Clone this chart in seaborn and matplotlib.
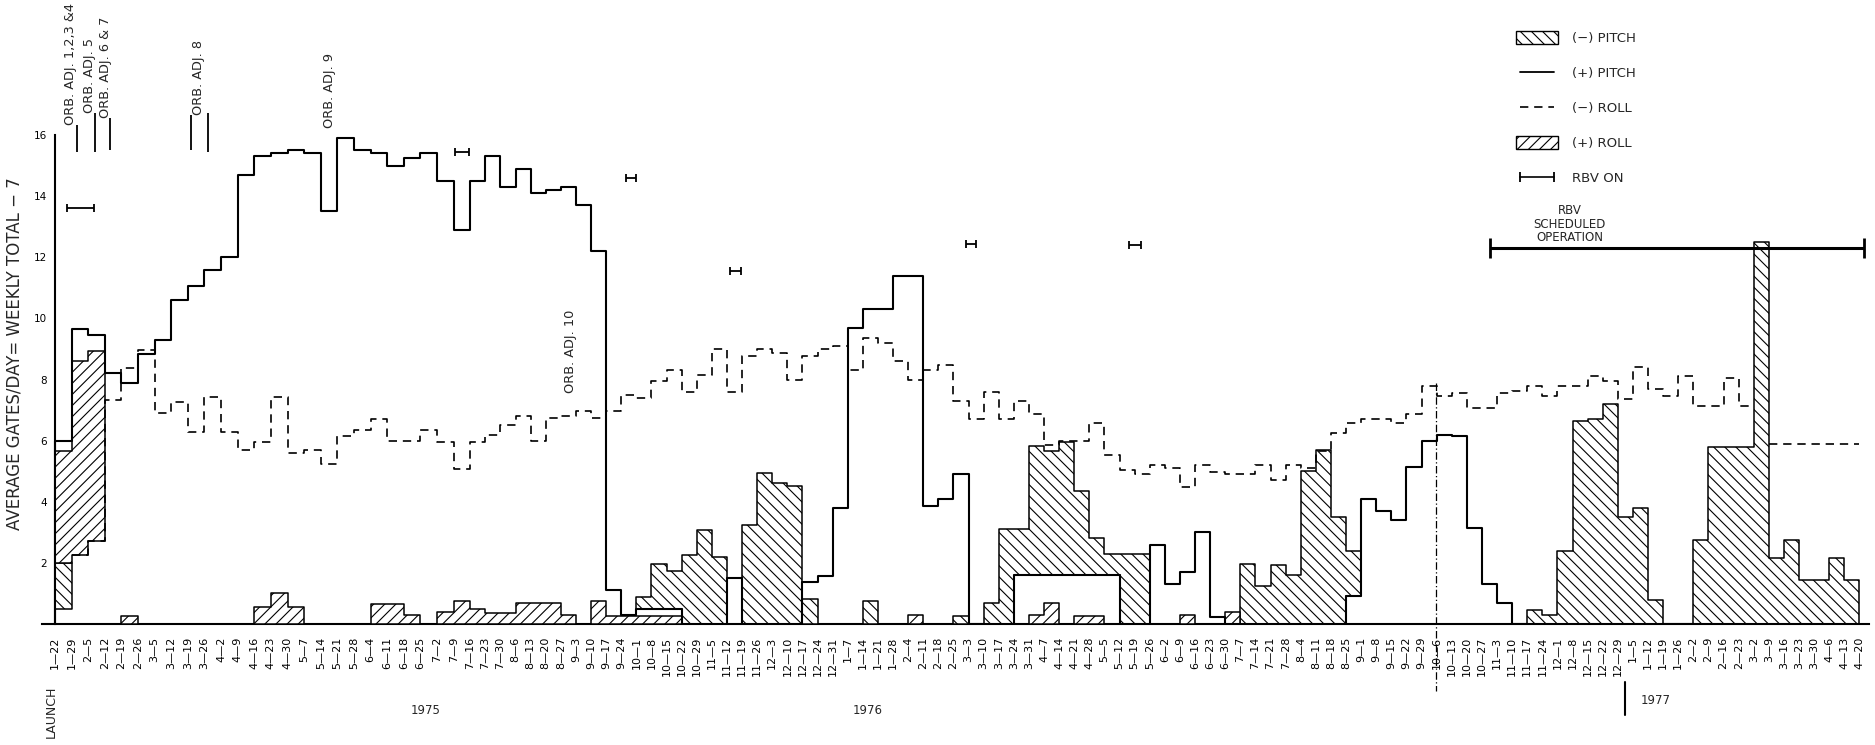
import numpy as np
import matplotlib
matplotlib.use("Agg")
import matplotlib.pyplot as plt
import matplotlib.transforms as mtransforms
from matplotlib.patches import Patch
from matplotlib.lines import Line2D
import seaborn as sns

sns.set_theme(style="white")
plt.rcParams["font.family"] = ["DejaVu Sans"]
plt.rcParams["hatch.linewidth"] = 0.8
plt.rcParams["hatch.color"] = "black"

nan = np.nan

# ---------------- data ----------------
WEEK_LABELS = [
    "1—22", "1—29", "2—5", "2—12", "2—19", "2—26", "3—5", "3—12", "3—19", "3—26",
    "4—2", "4—9", "4—16", "4—23", "4—30", "5—7", "5—14", "5—21", "5—28", "6—4",
    "6—11", "6—18", "6—25", "7—2", "7—9", "7—16", "7—23", "7—30", "8—6", "8—13",
    "8—20", "8—27", "9—3", "9—10", "9—17", "9—24", "10—1", "10—8", "10—15", "10—22",
    "10—29", "11—5", "11—12", "11—19", "11—26", "12—3", "12—10", "12—17", "12—24", "12—31",
    "1—7", "1—14", "1—21", "1—28", "2—4", "2—11", "2—18", "2—25", "3—3", "3—10",
    "3—17", "3—24", "3—31", "4—7", "4—14", "4—21", "4—28", "5—5", "5—12", "5—19",
    "5—26", "6—2", "6—9", "6—16", "6—23", "6—30", "7—7", "7—14", "7—21", "7—28",
    "8—4", "8—11", "8—18", "8—25", "9—1", "9—8", "9—15", "9—22", "9—29", "10—6",
    "10—13", "10—20", "10—27", "11—3", "11—10", "11—17", "11—24", "12—1", "12—8", "12—15",
    "12—22", "12—29", "1—5", "1—12", "1—19", "1—26", "2—2", "2—9", "2—16", "2—23",
    "3—2", "3—9", "3—16", "3—23", "3—30", "4—6", "4—13", "4—20",
]

# (+) PITCH, solid outline, one value per week
PITCH_PLUS = [
    6.0, 9.65, 9.45, 8.2, 7.9, 8.85, 9.3, 10.6, 11.05, 11.6,
    12.0, 14.7, 15.3, 15.4, 15.5, 15.4, 13.5, 15.9, 15.5, 15.4,
    15.0, 15.25, 15.4, 14.5, 12.9, 14.5, 15.3, 14.3, 14.9, 14.1,
    14.2, 14.3, 13.7, 12.2, 1.1, 0.3, 0.5, 0.5, 0.5, 0,
    0, 0, 1.5, 0, 0, 0, 0, 1.37, 1.57, 3.8,
    9.7, 10.3, 10.3, 11.4, 11.4, 3.85, 4.1, 4.9, 0, 0,
    0, 1.6, 1.6, 1.6, 1.6, 1.6, 1.6, 1.6, 0, 0,
    2.6, 1.3, 1.7, 3.0, 0.24, 0, 0, 0, 0, 0,
    0, 0, 0, 0.9, 4.1, 3.7, 3.4, 5.15, 6.0, 6.2,
    6.15, 3.15, 1.3, 0.7, 0, 0, 0, 0, 0, 0,
    0, 0, 0, 0, 0, 0, 0, 0, 0, 0,
    0, 0, 0, 0, 0, 0, 0,
]

# (-) ROLL, dashed outline
ROLL_MINUS = [
    nan, 2.25, 2.7, 7.33, 8.38, 8.97, 6.9, 7.26, 6.27, 7.44,
    6.27, 5.71, 5.95, 7.44, 5.6, 5.71, 5.25, 6.16, 6.35, 6.72,
    6.0, 6.0, 6.35, 5.95, 5.07, 5.95, 6.2, 6.5, 6.8, 6.0,
    6.75, 6.8, 6.96, 6.75, 6.96, 7.5, 7.4, 7.95, 8.3, 7.6,
    8.15, 9.0, 7.6, 8.77, 9.0, 8.86, 8.0, 8.77, 9.0, 9.1,
    8.3, 9.35, 9.2, 8.6, 8.0, 8.31, 8.47, 7.31, 6.7, 7.6,
    6.7, 7.3, 6.86, 5.87, 6.0, 6.0, 6.58, 5.53, 5.05, 4.9,
    5.2, 5.1, 4.48, 5.2, 4.97, 4.9, 4.92, 5.2, 4.7, 5.2,
    5.1, 5.67, 6.25, 6.58, 6.7, 6.7, 6.57, 6.88, 7.78, 7.45,
    7.56, 7.08, 7.08, 7.56, 7.63, 7.8, 7.45, 7.78, 7.8, 8.1,
    7.96, 7.37, 8.4, 7.7, 7.45, 8.1, 7.12, 7.12, 8.05, 7.12,
    nan, 5.9, 5.9, 5.9, 5.9, 5.9, 5.9,
]

# (-) PITCH, back-hatched blocks: week index, lower and upper level
PITCH_MINUS_WEEKS = [0, 36, 37, 38, 39, 40, 41, 43, 44, 45, 46, 47, 51, 57, 59, 60, 61, 62,
                     63, 64, 65, 66, 67, 68, 69, 76, 77, 78, 79, 80, 81, 82, 83, 95, 96,
                     97, 98, 99, 100, 101, 102, 103, 106, 107, 108, 109, 110, 111, 112,
                     113, 114, 115, 116]
PITCH_MINUS_LOW = [0.5, 0.5, 0.5, 0.5, 0, 0, 0, 0, 0, 0, 0, 0, 0, 0, 0, 0, 1.6, 1.6,
                   1.6, 1.6, 1.6, 1.6, 1.6, 0, 0, 0, 0, 0, 0, 0, 0, 0, 0.9, 0, 0,
                   0, 0, 0, 0, 0, 0, 0, 0, 0, 0, 0, 0, 0, 0,
                   0, 0, 0, 0]
PITCH_MINUS_HIGH = [2.0, 0.87, 1.95, 1.75, 2.25, 3.08, 2.2, 3.25, 4.95, 4.6, 4.5, 0.83, 0.75,
                    0.25, 0.7, 3.1, 3.1, 5.83, 5.65, 5.97, 4.36, 2.83, 2.3, 2.3, 2.3, 1.96,
                    1.25, 1.93, 1.6, 5.0, 5.7, 3.5, 2.4, 0.45, 0.3, 2.4, 6.65, 6.7, 7.2,
                    3.5, 3.8, 0.8, 2.75, 5.8, 5.8, 5.8, 12.5, 2.15, 2.75, 1.45, 1.45, 2.15,
                    1.45]

# (+) ROLL, forward-hatched blocks
ROLL_PLUS_WEEKS = [0, 1, 2, 4, 12, 13, 14, 19, 20, 21, 23, 24, 25, 26, 27, 28, 29, 30, 31,
                   33, 34, 35, 36, 37, 38, 54, 62, 63, 65, 66, 72, 75]
ROLL_PLUS_LOW = [2.0, 2.25, 2.7] + [0] * 29
ROLL_PLUS_HIGH = [5.65, 8.6, 8.95, 0.25, 0.55, 1.0, 0.55, 0.65, 0.65, 0.3, 0.4, 0.75, 0.5,
                  0.35, 0.35, 0.7, 0.7, 0.7, 0.3, 0.75, 0.25, 0.25, 0.25, 0.25, 0.25, 0.3,
                  0.3, 0.7, 0.25, 0.25, 0.3, 0.4]

# RBV ON periods (week position from / to, plotted level)
RBV_ON_FROM = [0.72, 24.1, 35.3, 42.2, 57.8, 68.6]
RBV_ON_TO = [2.35, 24.9, 36.0, 42.9, 58.5, 69.4]
RBV_ON_LEVEL = [13.6, 15.45, 14.6, 11.55, 12.43, 12.4]

RBV_SCHED_FROM, RBV_SCHED_TO, RBV_SCHED_LEVEL = 92.5, 117.3, 12.3

# orbit adjustments: label, label position, marker lines
ORB_TEXT = ["ORB. ADJ. 1,2,3 &4", "ORB. ADJ. 5", "ORB. ADJ. 6 & 7", "ORB. ADJ. 8",
            "ORB. ADJ. 9", "ORB. ADJ. 10"]
ORB_TEXT_WEEK = [0.95, 2.05, 3.07, 8.67, 16.5, 31.67]
ORB_TEXT_LEVEL = [16.33, 16.72, 16.56, 16.66, 16.23, 7.56]
ORB_LINE_WEEK = [1.3, 2.41, 3.31, 8.17, 9.23]
ORB_LINE_TOP = [16.33, 16.72, 16.56, 16.66, 16.72]
ORB_LINE_BOTTOM = [15.45, 15.45, 15.51, 15.51, 15.45]

EVENT_WEEK, EVENT_TOP = 88.96, 7.9

YEARS = ["1975", "1976", "1977"]
YEAR_WEEK = [22.3, 51.3, 103.5]
YEAR_SPLIT_WEEK = 101.5
Y_TICKS = [2, 4, 6, 8, 10, 12, 14, 16]


# ---------------- figure ----------------
W, H = 1875, 745
fig = plt.figure(figsize=(W / 100, H / 100), dpi=100)
ax = fig.add_axes([42 / W, 121 / H, 1827 / W, 624 / H])


def _fwd(x):
    x = np.asarray(x, dtype=float)
    return np.where(x < 25, x * 1.1, x + 2.5)


def _inv(u):
    u = np.asarray(u, dtype=float)
    return np.where(u < 27.5, u / 1.1, u - 2.5)


ax.set_xscale("function", functions=(_fwd, _inv))


def step_xy(start, vals, close):
    xs, ys = ([start], [0.0]) if close else ([], [])
    for i, v in enumerate(vals):
        xs += [start + i, start + i + 1]
        ys += [v, v]
    if close:
        xs.append(start + len(vals))
        ys.append(0.0)
    return xs, ys


def nan_runs(vals):
    out, cur, start = [], [], None
    for i, v in enumerate(vals):
        if np.isnan(v):
            if cur:
                out.append((start, cur))
            cur, start = [], None
        else:
            if start is None:
                start = i
            cur.append(v)
    if cur:
        out.append((start, cur))
    return out


def week_runs(weeks):
    groups, cur = [], [0]
    for k in range(1, len(weeks)):
        if weeks[k] == weeks[k - 1] + 1:
            cur.append(k)
        else:
            groups.append(cur)
            cur = [k]
    groups.append(cur)
    return groups


def hatched(weeks, low, high, hatch):
    for g in week_runs(weeks):
        w = [weeks[k] for k in g]
        lo = [low[k] for k in g]
        hi = [high[k] for k in g]
        edges = w + [w[-1] + 1]
        ax.fill_between(edges, lo + [lo[-1]], hi + [hi[-1]], step="post",
                        facecolor="white", edgecolor="black", hatch=hatch,
                        linewidth=1.1, zorder=3)


hatched(PITCH_MINUS_WEEKS, PITCH_MINUS_LOW, PITCH_MINUS_HIGH, "\\\\\\")
hatched(ROLL_PLUS_WEEKS, ROLL_PLUS_LOW, ROLL_PLUS_HIGH, "///")

xs, ys = step_xy(0, PITCH_PLUS, True)
sns.lineplot(x=xs, y=ys, sort=False, estimator=None, color="black",
             linewidth=1.5, ax=ax, zorder=4)
for start, vals in nan_runs(ROLL_MINUS):
    xs, ys = step_xy(start, vals, False)
    sns.lineplot(x=xs, y=ys, sort=False, estimator=None, color="black",
                 linewidth=1.2, linestyle=(0, (5, 3.5)), ax=ax, zorder=4)

# RBV ON markers
mid = [(a + b) / 2 for a, b in zip(RBV_ON_FROM, RBV_ON_TO)]
half = [(b - a) / 2 for a, b in zip(RBV_ON_FROM, RBV_ON_TO)]
ax.errorbar(mid, RBV_ON_LEVEL, xerr=half, fmt="none", ecolor="black",
            elinewidth=1.3, capsize=3, capthick=1.3, zorder=5)
ax.errorbar([(RBV_SCHED_FROM + RBV_SCHED_TO) / 2], [RBV_SCHED_LEVEL],
            xerr=[(RBV_SCHED_TO - RBV_SCHED_FROM) / 2], fmt="none", ecolor="black",
            elinewidth=2.2, capsize=7, capthick=2, zorder=5)
ax.text(97.8, RBV_SCHED_LEVEL + 0.12, "RBV\nSCHEDULED\nOPERATION", ha="center",
        va="bottom", fontsize=8.5, linespacing=1.05)

# orbit adjustments
for t, x, y in zip(ORB_TEXT, ORB_TEXT_WEEK, ORB_TEXT_LEVEL):
    ax.text(x, y, t, rotation=90, ha="center", va="bottom", fontsize=9.3)
ax.vlines(ORB_LINE_WEEK, ORB_LINE_BOTTOM, ORB_LINE_TOP, color="black", linewidth=1.3)

# event line (dash-dot) at 10-6
ax.plot([EVENT_WEEK, EVENT_WEEK], [EVENT_TOP, -2.2], color="black", linewidth=0.9,
        linestyle=(0, (6, 2, 1, 2)), clip_on=False, zorder=4)

# axes styling
ax.set_xlim(-0.78, 117.63)
ax.set_ylim(0, 20.42)
for s in ["top", "right"]:
    ax.spines[s].set_visible(False)
ax.spines["left"].set_position(("data", 0))
ax.spines["left"].set_bounds(0, 16)
for s in ["left", "bottom"]:
    ax.spines[s].set_color("black")
    ax.spines[s].set_linewidth(1.5)
ax.set_yticks(Y_TICKS)
ax.set_yticklabels([str(v) for v in Y_TICKS])
ax.set_xticks(range(len(WEEK_LABELS)))
ax.set_xticklabels(WEEK_LABELS, rotation=90)
ax.tick_params(axis="x", direction="out", length=5, width=1, pad=4, labelsize=8,
               color="black", labelcolor="black")
ax.tick_params(axis="y", direction="in", length=4, width=1, pad=6, labelsize=7.5,
               color="black", labelcolor="black")
ax.minorticks_off()
ax.grid(False)
ax.set_xlabel("")
ax.set_ylabel("")

fig.text(0.008, 0.525, "AVERAGE GATES/DAY= WEEKLY TOTAL − 7", rotation=90,
         ha="center", va="center", fontsize=12)

trans = mtransforms.blended_transform_factory(ax.transData, fig.transFigure)
for t, x in zip(YEARS, YEAR_WEEK):
    ax.text(x, 1 - (700 if t == "1977" else 710) / H, t, transform=trans,
            ha="center", va="center", fontsize=8.5)
ax.plot([YEAR_SPLIT_WEEK, YEAR_SPLIT_WEEK], [1 - 682 / H, 1 - 715 / H], transform=trans,
        color="black", linewidth=1.5, clip_on=False)
ax.text(-0.2, 1 - 712 / H, "LAUNCH", transform=trans, rotation=90, ha="center",
        va="center", fontsize=9)

# legend
handles = [
    Patch(facecolor="white", edgecolor="black", hatch="\\\\\\", linewidth=1.0, label="(−) PITCH"),
    Line2D([], [], color="black", linewidth=1.3, label="(+) PITCH"),
    Line2D([], [], color="black", linewidth=1.2, linestyle=(0, (5, 3.5)), label="(−) ROLL"),
    Patch(facecolor="white", edgecolor="black", hatch="///", linewidth=1.0, label="(+) ROLL"),
    Line2D([], [], color="black", linewidth=1.2, marker="|", markersize=7,
           markeredgewidth=1.3, label="RBV ON"),
]
ax.legend(handles=handles, loc="upper left", bbox_to_anchor=(1516 / W, 1 - 31 / H),
          bbox_transform=fig.transFigure, frameon=False, fontsize=9.5, handlelength=3.2,
          handleheight=1.14, handletextpad=1.06, labelspacing=1.6, borderpad=0,
          borderaxespad=0, numpoints=2)

fig.savefig("out.png", dpi=100, facecolor="white")
